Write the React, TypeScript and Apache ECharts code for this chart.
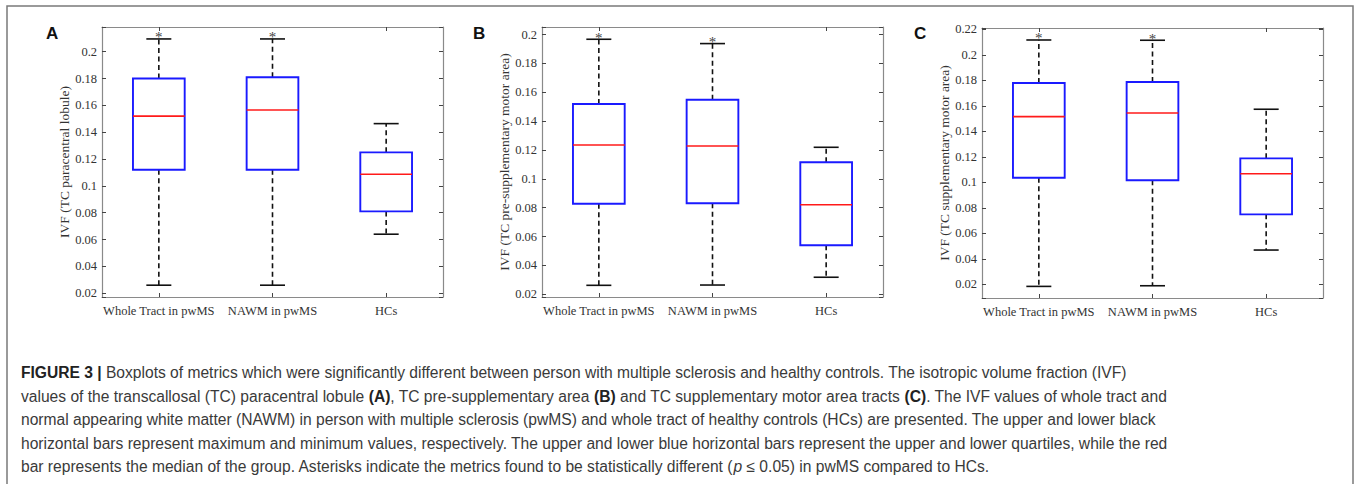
import React, { useEffect, useRef } from 'react';
import * as echarts from 'echarts';

// ---------- data ----------
const categories = ['Whole Tract in pwMS', 'NAWM in pwMS', 'HCs'];

// each row: [min, Q1, median, Q3, max]
const panelAStats = [
  [0.026, 0.112, 0.152, 0.18, 0.2095],
  [0.026, 0.112, 0.1566, 0.181, 0.2095],
  [0.064, 0.081, 0.1087, 0.125, 0.1464],
];
const panelBStats = [
  [0.0262, 0.0828, 0.1235, 0.1519, 0.1968],
  [0.0264, 0.0831, 0.1228, 0.1549, 0.1938],
  [0.0318, 0.054, 0.0821, 0.1115, 0.1219],
];
const panelCStats = [
  [0.0184, 0.1036, 0.1515, 0.1779, 0.2116],
  [0.0189, 0.1016, 0.1544, 0.1787, 0.2114],
  [0.0469, 0.0749, 0.1067, 0.1188, 0.1573],
];
// asterisk marks (significant vs HCs)
const significant = [1, 1, 0];

const panelLetters = ['A', 'B', 'C'];
const yTitles = [
  'IVF (TC paracentral lobule)',
  'IVF (TC pre-supplementary motor area)',
  'IVF (TC supplementary motor area)',
];
const yMins = [0.0172, 0.0181, 0.0093];
const yMaxs = [0.2184, 0.2053, 0.221];
const yStep = 0.02;

const captionLines = [
  '{b|FIGURE 3 |} Boxplots of metrics which were significantly different between person with multiple sclerosis and healthy controls. The isotropic volume fraction (IVF)',
  'values of the transcallosal (TC) paracentral lobule {b|(A)}, TC pre-supplementary area {b|(B)} and TC supplementary motor area tracts {b|(C)}. The IVF values of whole tract and',
  'normal appearing white matter (NAWM) in person with multiple sclerosis (pwMS) and whole tract of healthy controls (HCs) are presented. The upper and lower black',
  'horizontal bars represent maximum and minimum values, respectively. The upper and lower blue horizontal bars represent the upper and lower quartiles, while the red',
  'bar represents the median of the group. Asterisks indicate the metrics found to be statistically different ({i|p} ≤ 0.05) in pwMS compared to HCs.',
];

// ---------- layout ----------
const grids = [
  { left: 102, top: 27, width: 341, height: 270 },
  { left: 542, top: 27, width: 341, height: 270 },
  { left: 982, top: 28, width: 341, height: 270 },
];
const letterPos = [
  [46, 33],
  [473, 33],
  [914, 33],
];
const captionX = 21;
const captionY = [372, 396, 419.5, 443, 466.5];

const SERIF = 'Liberation Serif, Times New Roman, serif';
const SANS = 'Liberation Sans, Arial, Helvetica, sans-serif';
const AXIS_COLOR = '#8a8a8a';
const TICK_COLOR = '#444';

const allStats = [panelAStats, panelBStats, panelCStats];

function tickFormatter(v: number) {
  const k = v / yStep;
  if (Math.abs(k - Math.round(k)) > 1e-6) return '';
  return String(Number(v.toFixed(2)));
}

function renderBox(params: any, api: any) {
  const idx = api.value(0);
  const mn = api.value(1);
  const q1 = api.value(2);
  const md = api.value(3);
  const q3 = api.value(4);
  const mx = api.value(5);
  const sig = api.value(6);
  const pMin = api.coord([idx, mn]);
  const pQ1 = api.coord([idx, q1]);
  const pMd = api.coord([idx, md]);
  const pQ3 = api.coord([idx, q3]);
  const pMx = api.coord([idx, mx]);
  const band = api.size([1, 0])[0];
  const bw = band * 0.455;
  const cw = band * 0.22;
  const cx = pMin[0];
  const dash = { stroke: '#111', lineWidth: 1.6, lineDash: [5, 3.5] };
  const solid = { stroke: '#111', lineWidth: 1.6 };
  const children: any[] = [
    { type: 'line', shape: { x1: cx, y1: pQ3[1], x2: cx, y2: pMx[1] }, style: dash },
    { type: 'line', shape: { x1: cx, y1: pQ1[1], x2: cx, y2: pMin[1] }, style: dash },
    { type: 'line', shape: { x1: cx - cw / 2, y1: pMx[1], x2: cx + cw / 2, y2: pMx[1] }, style: solid },
    { type: 'line', shape: { x1: cx - cw / 2, y1: pMin[1], x2: cx + cw / 2, y2: pMin[1] }, style: solid },
    {
      type: 'rect',
      shape: { x: cx - bw / 2, y: pQ3[1], width: bw, height: pQ1[1] - pQ3[1] },
      style: { fill: 'none', stroke: '#1a1aff', lineWidth: 1.9 },
    },
    {
      type: 'line',
      shape: { x1: cx - bw / 2, y1: pMd[1], x2: cx + bw / 2, y2: pMd[1] },
      style: { stroke: '#ff1a1a', lineWidth: 1.6 },
    },
  ];
  if (sig) {
    children.push({
      type: 'text',
      style: {
        text: '*',
        x: cx,
        y: pMx[1] + 6,
        align: 'center',
        verticalAlign: 'bottom',
        fontFamily: SERIF,
        fontSize: 15,
        fill: '#444',
      },
    });
  }
  return { type: 'group', children };
}

export default function App() {
  const ref = useRef<HTMLDivElement>(null);
  useEffect(() => {
    if (!ref.current) return;
    const chart = echarts.init(ref.current, undefined, { renderer: 'svg' });

    const xAxis: any[] = [];
    const yAxis: any[] = [];
    const series: any[] = [];
    grids.forEach((g, i) => {
      xAxis.push({
        type: 'category',
        gridIndex: i,
        data: categories,
        position: 'bottom',
        boundaryGap: true,
        axisLine: { show: true, lineStyle: { color: AXIS_COLOR, width: 1.2 } },
        axisTick: { show: true, inside: true, alignWithLabel: true, length: 4, lineStyle: { color: TICK_COLOR } },
        axisLabel: { fontFamily: SERIF, fontSize: 12.5, color: '#333', margin: 7, interval: 0 },
        splitLine: { show: false },
      });
      xAxis.push({
        type: 'category',
        gridIndex: i,
        data: categories,
        position: 'top',
        boundaryGap: true,
        axisLine: { show: true, lineStyle: { color: AXIS_COLOR, width: 1.2 } },
        axisTick: { show: true, inside: true, alignWithLabel: true, length: 4, lineStyle: { color: TICK_COLOR } },
        axisLabel: { show: false },
        splitLine: { show: false },
      });
      const yCommon = {
        type: 'value',
        gridIndex: i,
        min: yMins[i],
        max: yMaxs[i],
        splitNumber: 10,
        minInterval: yStep,
        maxInterval: yStep,
        axisLine: { show: true, lineStyle: { color: AXIS_COLOR, width: 1.2 } },
        axisTick: { show: true, inside: true, length: 4, lineStyle: { color: TICK_COLOR } },
        splitLine: { show: false },
      };
      yAxis.push({
        ...yCommon,
        position: 'left',
        axisLabel: {
          formatter: tickFormatter,
          fontFamily: SERIF,
          fontSize: 12.5,
          color: '#333',
          margin: 5,
          showMinLabel: true,
          showMaxLabel: true,
        },
        name: yTitles[i],
        nameLocation: 'middle',
        nameGap: 31,
        nameRotate: 90,
        nameTextStyle: { fontFamily: SERIF, fontSize: 13.5, color: '#333' },
      });
      yAxis.push({
        ...yCommon,
        position: 'right',
        axisLabel: { show: false },
      });
      series.push({
        type: 'custom',
        xAxisIndex: 2 * i,
        yAxisIndex: 2 * i,
        clip: false,
        renderItem: renderBox,
        encode: { x: 0, y: [1, 2, 3, 4, 5] },
        data: allStats[i].map((s, k) => [k, ...s, significant[k]]),
      });
    });

    const graphic: any[] = [
      {
        type: 'rect',
        shape: { x: 7, y: 6, width: 1346, height: 520 },
        style: { fill: 'none', stroke: '#7a7a7a', lineWidth: 1.5 },
        silent: true,
      },
    ];
    panelLetters.forEach((l, i) => {
      graphic.push({
        type: 'text',
        x: letterPos[i][0],
        y: letterPos[i][1],
        style: {
          text: l,
          fontFamily: SANS,
          fontWeight: 'bold',
          fontSize: 17,
          fill: '#111',
          verticalAlign: 'middle',
          align: 'left',
        },
      });
    });
    captionLines.forEach((t, i) => {
      graphic.push({
        type: 'text',
        x: captionX,
        y: captionY[i],
        scaleX: 0.975,
        style: {
          text: t,
          fontFamily: SANS,
          fontSize: 16,
          fill: '#3a3a3a',
          verticalAlign: 'middle',
          align: 'left',
          rich: {
            b: { fontFamily: SANS, fontSize: 16, fontWeight: 'bold', fill: '#222' },
            i: { fontFamily: SANS, fontSize: 16, fontStyle: 'italic', fill: '#3a3a3a' },
          },
        },
      });
    });

    chart.setOption({
      animation: false,
      backgroundColor: '#ffffff',
      grid: grids.map((g) => ({ ...g, containLabel: false })),
      xAxis,
      yAxis,
      series,
      graphic,
    });
    return () => chart.dispose();
  }, []);

  return (
    <div
      ref={ref}
      style={{ position: 'absolute', left: 0, top: 0, width: '1357px', height: '484px' }}
    />
  );
}
